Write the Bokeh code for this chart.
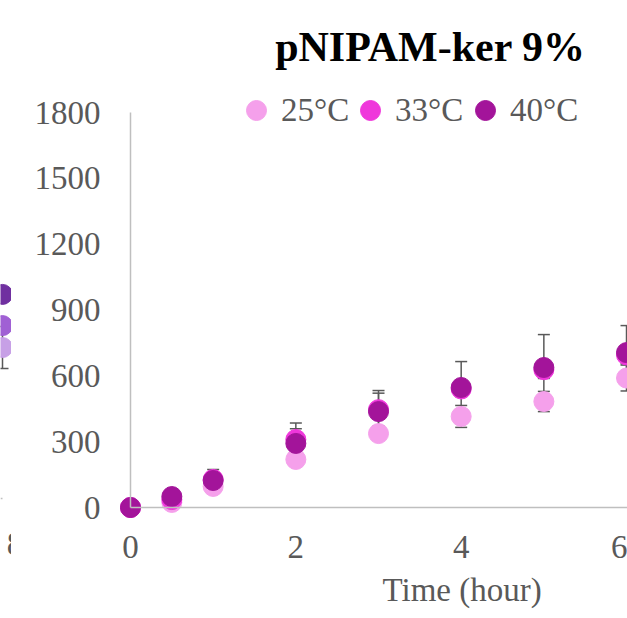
from bokeh.plotting import figure
from bokeh.models import (ColumnDataSource, Whisker, TeeHead, Legend, LegendItem,
                          Label, FixedTicker, Range1d, LinearAxis, Title)
from bokeh.layouts import row
from bokeh.embed import file_html
from bokeh.resources import INLINE

# ---- swelling data, pNIPAM-ker 9% ----
hours = [0, 0.5, 1, 2, 3, 4, 5, 6]
t25 = [0, 23, 96, 219, 337, 415, 483, 590]
t33 = [0, 36, 128, 310, 446, 540, 628, 695]
t40 = [0, 50, 123, 292, 437, 547, 638, 706]
err25 = [0, 0, 0, 20, 25, 50, 46, 59]
err33 = [0, 0, 20, 49, 75, 35, 40, 40]
err40 = [0, 0, 50, 93, 96, 118, 150, 123]
series_names = ["25°C", "33°C", "40°C"]
series_colors = ["#f5a0eb", "#ef37db", "#a3149a"]

x_ticks = [0, 2, 4, 6, 8]
y_ticks = [0, 300, 600, 900, 1200, 1500, 1800]

# last point of the neighbouring panel (8 h)
prev_hour = [8]
prev_light = [688]
prev_mid = [788]
prev_dark = [930]
prev_light_err = [96]
prev_colors = ["#c7a0e6", "#a060d4", "#7030a0"]

FONT = "Liberation Serif"
GREY = "#595959"
AXIS_GREY = "#bfbfbf"

PX_PER_HOUR = 82.67
PX_PER_UNIT = 395 / 1800.0
FRAME_BOTTOM = 518
BOTTOM_SPACE = 618 - FRAME_BOTTOM


def tee():
    return TeeHead(size=12, line_color=GREY, line_width=1.5)


def origin_line(bounds):
    # bare axis line drawn through the origin, no ticks or labels
    return LinearAxis(fixed_location=0, ticker=FixedTicker(ticks=[]), bounds=bounds,
                      axis_line_color=AXIS_GREY, axis_line_width=1.5,
                      major_tick_line_color=None, minor_tick_line_color=None,
                      major_tick_out=0, major_tick_in=0, minor_tick_out=0, minor_tick_in=0,
                      major_label_standoff=0, axis_label_standoff=0)


# ---------- neighbouring panel (right edge only) ----------
lp = figure(width=11, height=618, output_backend="svg", toolbar_location=None,
            x_range=Range1d(8 - 2 / PX_PER_HOUR, 8 + 9 / PX_PER_HOUR),
            y_range=Range1d(-(FRAME_BOTTOM - 498) / PX_PER_UNIT, 498 / PX_PER_UNIT),
            y_axis_location=None,
            min_border_left=0, min_border_right=0, min_border_top=0,
            min_border_bottom=BOTTOM_SPACE)
lp.outline_line_color = None
lp.grid.visible = False
lsrc = ColumnDataSource(dict(x=prev_hour, a=prev_light, b=prev_mid, c=prev_dark,
                             lo=[v - e for v, e in zip(prev_light, prev_light_err)],
                             hi=[v + e for v, e in zip(prev_light, prev_light_err)]))
lp.add_layout(Whisker(source=lsrc, base="x", lower="lo", upper="hi", level="underlay",
                      line_color=GREY, line_width=1.5, upper_head=tee(), lower_head=tee()))
for col, c in zip(["a", "b", "c"], prev_colors):
    lp.scatter("x", col, source=lsrc, size=20, fill_color=c, line_color=c)
lp.xaxis.ticker = FixedTicker(ticks=[8])
lp.xaxis.axis_line_color = None
lp.xaxis.major_tick_line_color = None
lp.xaxis.minor_tick_line_color = None
lp.xaxis.major_label_text_font = FONT
lp.xaxis.major_label_text_font_size = "33px"
lp.xaxis.major_label_text_color = GREY
lp.xaxis.major_label_standoff = 8
lp.add_layout(origin_line((7, 8)), "below")

# ---------- main panel ----------
frame_left = 118
x0 = (frame_left - 130) / PX_PER_HOUR
x1 = (627 - 130) / PX_PER_HOUR
y0 = -(FRAME_BOTTOM - 507) / PX_PER_UNIT
y1 = 507 / PX_PER_UNIT

p = figure(width=616, height=618, output_backend="svg", toolbar_location=None,
           x_range=Range1d(x0, x1), y_range=Range1d(y0, y1),
           min_border_left=frame_left - 11, min_border_right=0,
           min_border_top=0, min_border_bottom=BOTTOM_SPACE)
p.outline_line_color = None
p.grid.visible = False

src = ColumnDataSource(dict(
    t=hours, t25=t25, t33=t33, t40=t40,
    lo25=[v - e for v, e in zip(t25, err25)], hi25=[v + e for v, e in zip(t25, err25)],
    lo33=[v - e for v, e in zip(t33, err33)], hi33=[v + e for v, e in zip(t33, err33)],
    lo40=[v - e for v, e in zip(t40, err40)], hi40=[v + e for v, e in zip(t40, err40)],
))

# error bars sit underneath the markers
for key in ["25", "33", "40"]:
    p.add_layout(Whisker(source=src, base="t", lower="lo" + key, upper="hi" + key,
                         level="underlay", line_color=GREY, line_width=1.5,
                         upper_head=tee(), lower_head=tee()))

renderers = []
for key, c in zip(["t25", "t33", "t40"], series_colors):
    renderers.append(p.scatter("t", key, source=src, size=20, fill_color=c, line_color=c))

# tick labels on the outer axes, axis lines through the origin
p.xaxis.ticker = FixedTicker(ticks=x_ticks)
p.yaxis.ticker = FixedTicker(ticks=y_ticks)
for ax in (p.xaxis, p.yaxis):
    ax.axis_line_color = None
    ax.major_tick_line_color = None
    ax.minor_tick_line_color = None
    ax.major_tick_out = 0
    ax.major_label_text_font = FONT
    ax.major_label_text_font_size = "33px"
    ax.major_label_text_color = GREY
p.xaxis.major_label_standoff = 17
p.yaxis.major_label_standoff = 18

p.add_layout(origin_line((0, 1800)), "left")
p.add_layout(origin_line((0, 8)), "below")

# time-axis title, centred over the full 0-8 h span
p.add_layout(Title(text="Time (hour)", align="left", offset=264, standoff=19,
                   text_font=FONT, text_font_style="normal", text_font_size="33px",
                   text_color=GREY), "below")

p.add_layout(Label(x=(430 - 130) / PX_PER_HOUR, y=(507 - 46) / PX_PER_UNIT,
                   text="pNIPAM-ker 9%", text_font=FONT, text_font_style="bold",
                   text_font_size="42px", text_color="black",
                   text_align="center", text_baseline="middle"))

# one legend box per series, laid out in a row above the data
legend_offsets = [113, 227, 342]
for name, r, off in zip(series_names, renderers, legend_offsets):
    p.add_layout(Legend(items=[LegendItem(label=name, renderers=[r])],
                        location=(off, FRAME_BOTTOM - 135),
                        glyph_width=50, glyph_height=50, label_standoff=0,
                        padding=0, margin=0,
                        label_text_font=FONT, label_text_font_size="33px",
                        label_text_color=GREY,
                        border_line_color=None, background_fill_alpha=0))

layout = row(lp, p)
open("out.html", "w").write(file_html(layout, INLINE))
